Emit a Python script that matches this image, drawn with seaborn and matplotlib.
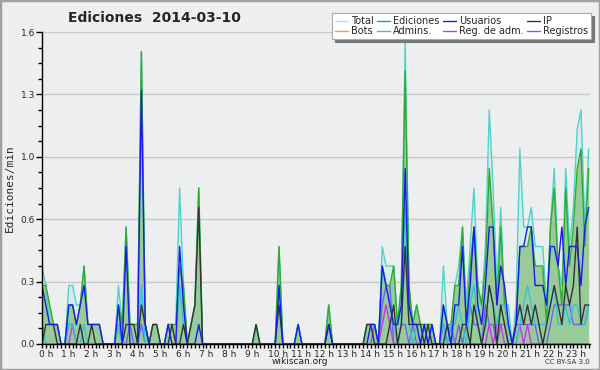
import numpy as np
import pandas as pd
import matplotlib
matplotlib.use("Agg")
import matplotlib.pyplot as plt
import matplotlib.transforms as mtrans
import seaborn as sns
from matplotlib.lines import Line2D
from matplotlib.patches import Rectangle
from matplotlib.ticker import MultipleLocator, FixedLocator, FixedFormatter

# ediciones por cada 10 minutos (en décimas de edición/min), una fila por hora
total = [4, 3, 1, 1, 1, 0,  0, 3, 3, 2, 2, 4,  1, 1, 1, 1, 0, 0,
         0, 0, 3, 1, 6, 1,  1, 1, 15, 1, 0, 1,  1, 0, 0, 1, 1, 1,
         8, 3, 0, 1, 2, 8,  0, 0, 0, 0, 0, 0,  0, 0, 0, 0, 0, 0,
         0, 0, 1, 0, 0, 0,  0, 0, 5, 0, 0, 0,  0, 1, 0, 0, 0, 0,
         0, 0, 0, 2, 0, 0,  0, 0, 0, 0, 0, 0,  0, 1, 1, 1, 0, 5,
         4, 4, 4, 1, 3, 15.5,  3, 1, 2, 1, 1, 1,  1, 0, 0, 4, 1, 1,
         3, 4, 6, 2, 5, 8,  3, 2, 5, 12, 8, 3,  7, 2, 2, 0, 2, 10,
         6, 6, 7, 5, 5, 5,  2, 6, 9, 4, 3, 9,  5, 7, 11, 12, 6, 10]
ediciones = [3, 3, 2, 1, 1, 0,  0, 2, 2, 1, 2, 4,  1, 1, 1, 1, 0, 0,
             0, 0, 2, 1, 6, 1,  1, 1, 15, 1, 0, 1,  1, 0, 0, 1, 1, 1,
             4, 3, 0, 1, 2, 8,  0, 0, 0, 0, 0, 0,  0, 0, 0, 0, 0, 0,
             0, 0, 1, 0, 0, 0,  0, 0, 5, 0, 0, 0,  0, 1, 0, 0, 0, 0,
             0, 0, 0, 2, 0, 0,  0, 0, 0, 0, 0, 0,  0, 1, 1, 1, 0, 4,
             3, 3, 4, 1, 3, 14,  3, 1, 2, 1, 1, 1,  1, 0, 0, 2, 1, 1,
             3, 3, 6, 1, 4, 6,  3, 2, 4, 9, 6, 2,  6, 2, 1, 0, 1, 5,
             5, 5, 6, 4, 4, 4,  1, 6, 8, 4, 2, 8,  4, 6, 9, 10, 5, 9]
usuarios = [3, 2, 1, 1, 1, 0,  0, 2, 2, 1, 2, 3,  1, 1, 1, 1, 0, 0,
            0, 0, 2, 0, 5, 0,  0, 0, 13, 1, 0, 0,  0, 0, 0, 1, 0, 0,
            5, 2, 0, 0, 0, 1,  0, 0, 0, 0, 0, 0,  0, 0, 0, 0, 0, 0,
            0, 0, 0, 0, 0, 0,  0, 0, 3, 0, 0, 0,  0, 1, 0, 0, 0, 0,
            0, 0, 0, 1, 0, 0,  0, 0, 0, 0, 0, 0,  0, 0, 1, 1, 0, 4,
            3, 2, 1, 1, 2, 9,  2, 1, 1, 0, 1, 0,  1, 0, 0, 2, 1, 0,
            2, 2, 5, 1, 3, 6,  2, 1, 3, 6, 6, 2,  4, 3, 1, 0, 1, 5,
            5, 6, 6, 3, 3, 3,  2, 5, 5, 4, 6, 3,  5, 5, 5, 3, 6, 7]
ip = [0, 1, 1, 1, 0, 0,  0, 0, 0, 0, 1, 0,  0, 1, 0, 0, 0, 0,
      0, 0, 0, 0, 1, 1,  1, 0, 2, 1, 0, 1,  1, 0, 0, 0, 1, 0,
      0, 1, 0, 1, 2, 7,  0, 0, 0, 0, 0, 0,  0, 0, 0, 0, 0, 0,
      0, 0, 1, 0, 0, 0,  0, 0, 2, 0, 0, 0,  0, 0, 0, 0, 0, 0,
      0, 0, 0, 1, 0, 0,  0, 0, 0, 0, 0, 0,  0, 1, 1, 0, 0, 0,
      0, 1, 2, 0, 1, 5,  1, 1, 1, 1, 0, 1,  0, 0, 0, 0, 1, 0,
      0, 0, 1, 1, 0, 2,  1, 0, 1, 3, 2, 0,  2, 1, 0, 0, 1, 2,
      1, 2, 1, 2, 1, 0,  1, 2, 3, 2, 1, 3,  2, 3, 6, 1, 2, 2]
bots = [0] * 144
admins = [1, 0, 0, 0, 0, 0,  0, 1, 1, 0, 0, 1,  0, 0, 0, 0, 0, 0,
          0, 0, 1, 0, 0, 0,  0, 0, 3, 0, 0, 0,  0, 0, 0, 0, 0, 0,
          3, 1, 0, 0, 0, 0,  0, 0, 0, 0, 0, 0,  0, 0, 0, 0, 0, 0,
          0, 0, 0, 0, 0, 0,  0, 0, 3, 0, 0, 0,  0, 1, 0, 0, 0, 0,
          0, 0, 0, 0, 0, 0,  0, 0, 0, 0, 0, 0,  0, 0, 0, 0, 0, 4,
          3, 2, 1, 0, 1, 7,  1, 0, 1, 0, 0, 0,  0, 0, 0, 1, 0, 1,
          1, 2, 1, 0, 2, 3,  1, 0, 1, 3, 2, 1,  2, 2, 1, 0, 0, 1,
          2, 3, 2, 1, 1, 1,  1, 2, 3, 1, 1, 2,  1, 2, 2, 1, 1, 2]
reg_adm = [0, 0, 0, 0, 0, 0,  0, 0, 1, 0, 0, 0,  0, 0, 0, 0, 0, 0,
           0, 0, 0, 0, 0, 0,  0, 0, 0, 0, 0, 0,  0, 0, 0, 0, 0, 0,
           0, 0, 0, 0, 0, 0,  0, 0, 0, 0, 0, 0,  0, 0, 0, 0, 0, 0,
           0, 0, 0, 0, 0, 0,  0, 0, 0, 0, 0, 0,  0, 0, 0, 0, 0, 0,
           0, 0, 0, 0, 0, 0,  0, 0, 0, 0, 0, 0,  0, 0, 0, 0, 0, 1,
           2, 1, 0, 0, 0, 0,  0, 0, 0, 0, 0, 0,  0, 0, 0, 1, 0, 0,
           0, 0, 0, 0, 0, 0,  0, 0, 0, 1, 0, 1,  1, 0, 0, 0, 0, 1,
           0, 1, 0, 0, 0, 0,  0, 0, 0, 0, 0, 0,  0, 0, 0, 0, 0, 0]
registros = [0, 0, 0, 0, 0, 0,  0, 1, 1, 0, 0, 0,  0, 0, 0, 0, 0, 0,
             0, 0, 1, 0, 0, 1,  0, 0, 1, 0, 0, 0,  0, 0, 0, 0, 0, 0,
             0, 0, 0, 0, 0, 0,  0, 0, 0, 0, 0, 0,  0, 0, 0, 0, 0, 0,
             0, 0, 0, 0, 0, 0,  0, 0, 0, 0, 0, 0,  0, 0, 0, 0, 0, 0,
             0, 0, 0, 0, 0, 0,  0, 0, 0, 0, 0, 0,  0, 0, 0, 1, 0, 2,
             3, 3, 0, 0, 1, 1,  0, 1, 0, 0, 1, 0,  0, 0, 0, 1, 0, 1,
             0, 1, 0, 1, 2, 1,  1, 0, 2, 1, 1, 0,  1, 1, 0, 0, 1, 1,
             1, 1, 1, 1, 0, 0,  0, 1, 2, 2, 2, 2,  2, 1, 1, 1, 1, 2]

series = {
    "Total": total, "Ediciones": ediciones, "Usuarios": usuarios, "IP": ip,
    "Bots": bots, "Admins.": admins, "Reg. de adm.": reg_adm, "Registros": registros,
}
colores = {
    "Total": "#4fd3c8", "Ediciones": "#2faa2f", "Usuarios": "#1a1aee", "IP": "#333333",
    "Bots": "#ff9933", "Admins.": "#33c4d4", "Reg. de adm.": "#cc33ee", "Registros": "#6666ee",
}
orden = ["Bots", "Total", "Ediciones", "Registros", "Reg. de adm.", "Admins.", "IP", "Usuarios"]

horas = np.arange(144) / 6
df = pd.concat([pd.DataFrame({"hora": horas, "valor": np.array(v) / 10, "serie": k})
                for k, v in series.items()])

sns.set_style("ticks")
plt.rcParams["font.family"] = ["DejaVu Sans"]

fig = plt.figure(figsize=(6, 3.7), dpi=100, facecolor="#efefef")
ax = fig.add_axes([0.07, 0.0703, 0.913, 0.8432])
ax.set_facecolor("#edeef0")

# rellenos
ax.fill_between(horas, np.array(total) / 10, color="#c8ece6", alpha=0.6, lw=0, zorder=1)
ax.fill_between(horas, np.array(ediciones) / 10, color="#95ca95", alpha=0.95, lw=0, zorder=1.1)

sns.lineplot(data=df, x="hora", y="valor", hue="serie", hue_order=orden, palette=colores,
             linewidth=1.0, legend=False, ax=ax, zorder=2)

ax.set_xlim(0, 143.3 / 6)
ax.set_ylim(0, 1.6)
yt = [0, 0.32, 0.64, 0.96, 1.28, 1.6]
ax.yaxis.set_major_locator(FixedLocator(yt))
ax.yaxis.set_major_formatter(FixedFormatter(["0.0", "0.3", "0.6", "1.0", "1.3", "1.6"]))
ax.yaxis.set_minor_locator(MultipleLocator(0.08))
ax.xaxis.set_major_locator(FixedLocator(range(24)))
ax.xaxis.set_major_formatter(FixedFormatter([f"{h} h" for h in range(24)]))
ax.xaxis.set_minor_locator(MultipleLocator(1 / 6))
ax.tick_params(axis="y", which="major", labelsize=6.5, length=4, width=1, color="black", pad=1)
ax.tick_params(axis="x", which="major", labelsize=6.5, length=3, width=1, color="black", pad=1)
ax.tick_params(axis="both", which="minor", length=3, width=1, color="black")
off = mtrans.ScaledTranslation(-2.5 / 72, 0, fig.dpi_scale_trans)
for lab in ax.get_xticklabels():
    lab.set_horizontalalignment("left")
    lab.set_transform(lab.get_transform() + off)

ax.grid(axis="y", color="#c8c8c8", lw=1)
ax.set_axisbelow(True)
sns.despine(ax=ax)
for s in ["left", "bottom"]:
    ax.spines[s].set_color("black")
    ax.spines[s].set_linewidth(1)
ax.set_xlabel("")
ax.set_ylabel("Ediciones/min", fontsize=8, family="DejaVu Sans Mono", labelpad=4)

fig.text(0.258, 0.951, "Ediciones  2014-03-10", ha="center", va="center",
         fontsize=10, fontweight="bold")
fig.text(0.5, 0.022, "wikiscan.org", ha="center", va="center", fontsize=6.5, color="#222222")
fig.text(0.983, 0.021, "CC BY-SA 3.0", ha="right", va="center", fontsize=5, color="#333333")

ley = ["Total", "Bots", "Ediciones", "Admins.", "Usuarios", "Reg. de adm.", "IP", "Registros"]
manejadores = [Line2D([], [], color=colores[k], lw=1, alpha=0.5 if k == "Total" else 1) for k in ley]
leg = fig.legend(manejadores, ley, loc="upper right", bbox_to_anchor=(0.993, 0.978), ncol=4,
                 fontsize=7, handlelength=1.3, handletextpad=0.3, columnspacing=0.4,
                 labelspacing=0.0, borderpad=0.3, fancybox=False, frameon=True,
                 shadow={"color": "#777777", "alpha": 1})
leg.get_frame().set_edgecolor("#aaaaaa")
leg.get_frame().set_facecolor("white")
leg.get_frame().set_linewidth(0.8)

fig.patches.append(Rectangle((0, 0), 1, 1, transform=fig.transFigure, fill=False,
                             edgecolor="#a0a0a0", lw=2.5))

fig.savefig("out.png", dpi=100, facecolor=fig.get_facecolor())
